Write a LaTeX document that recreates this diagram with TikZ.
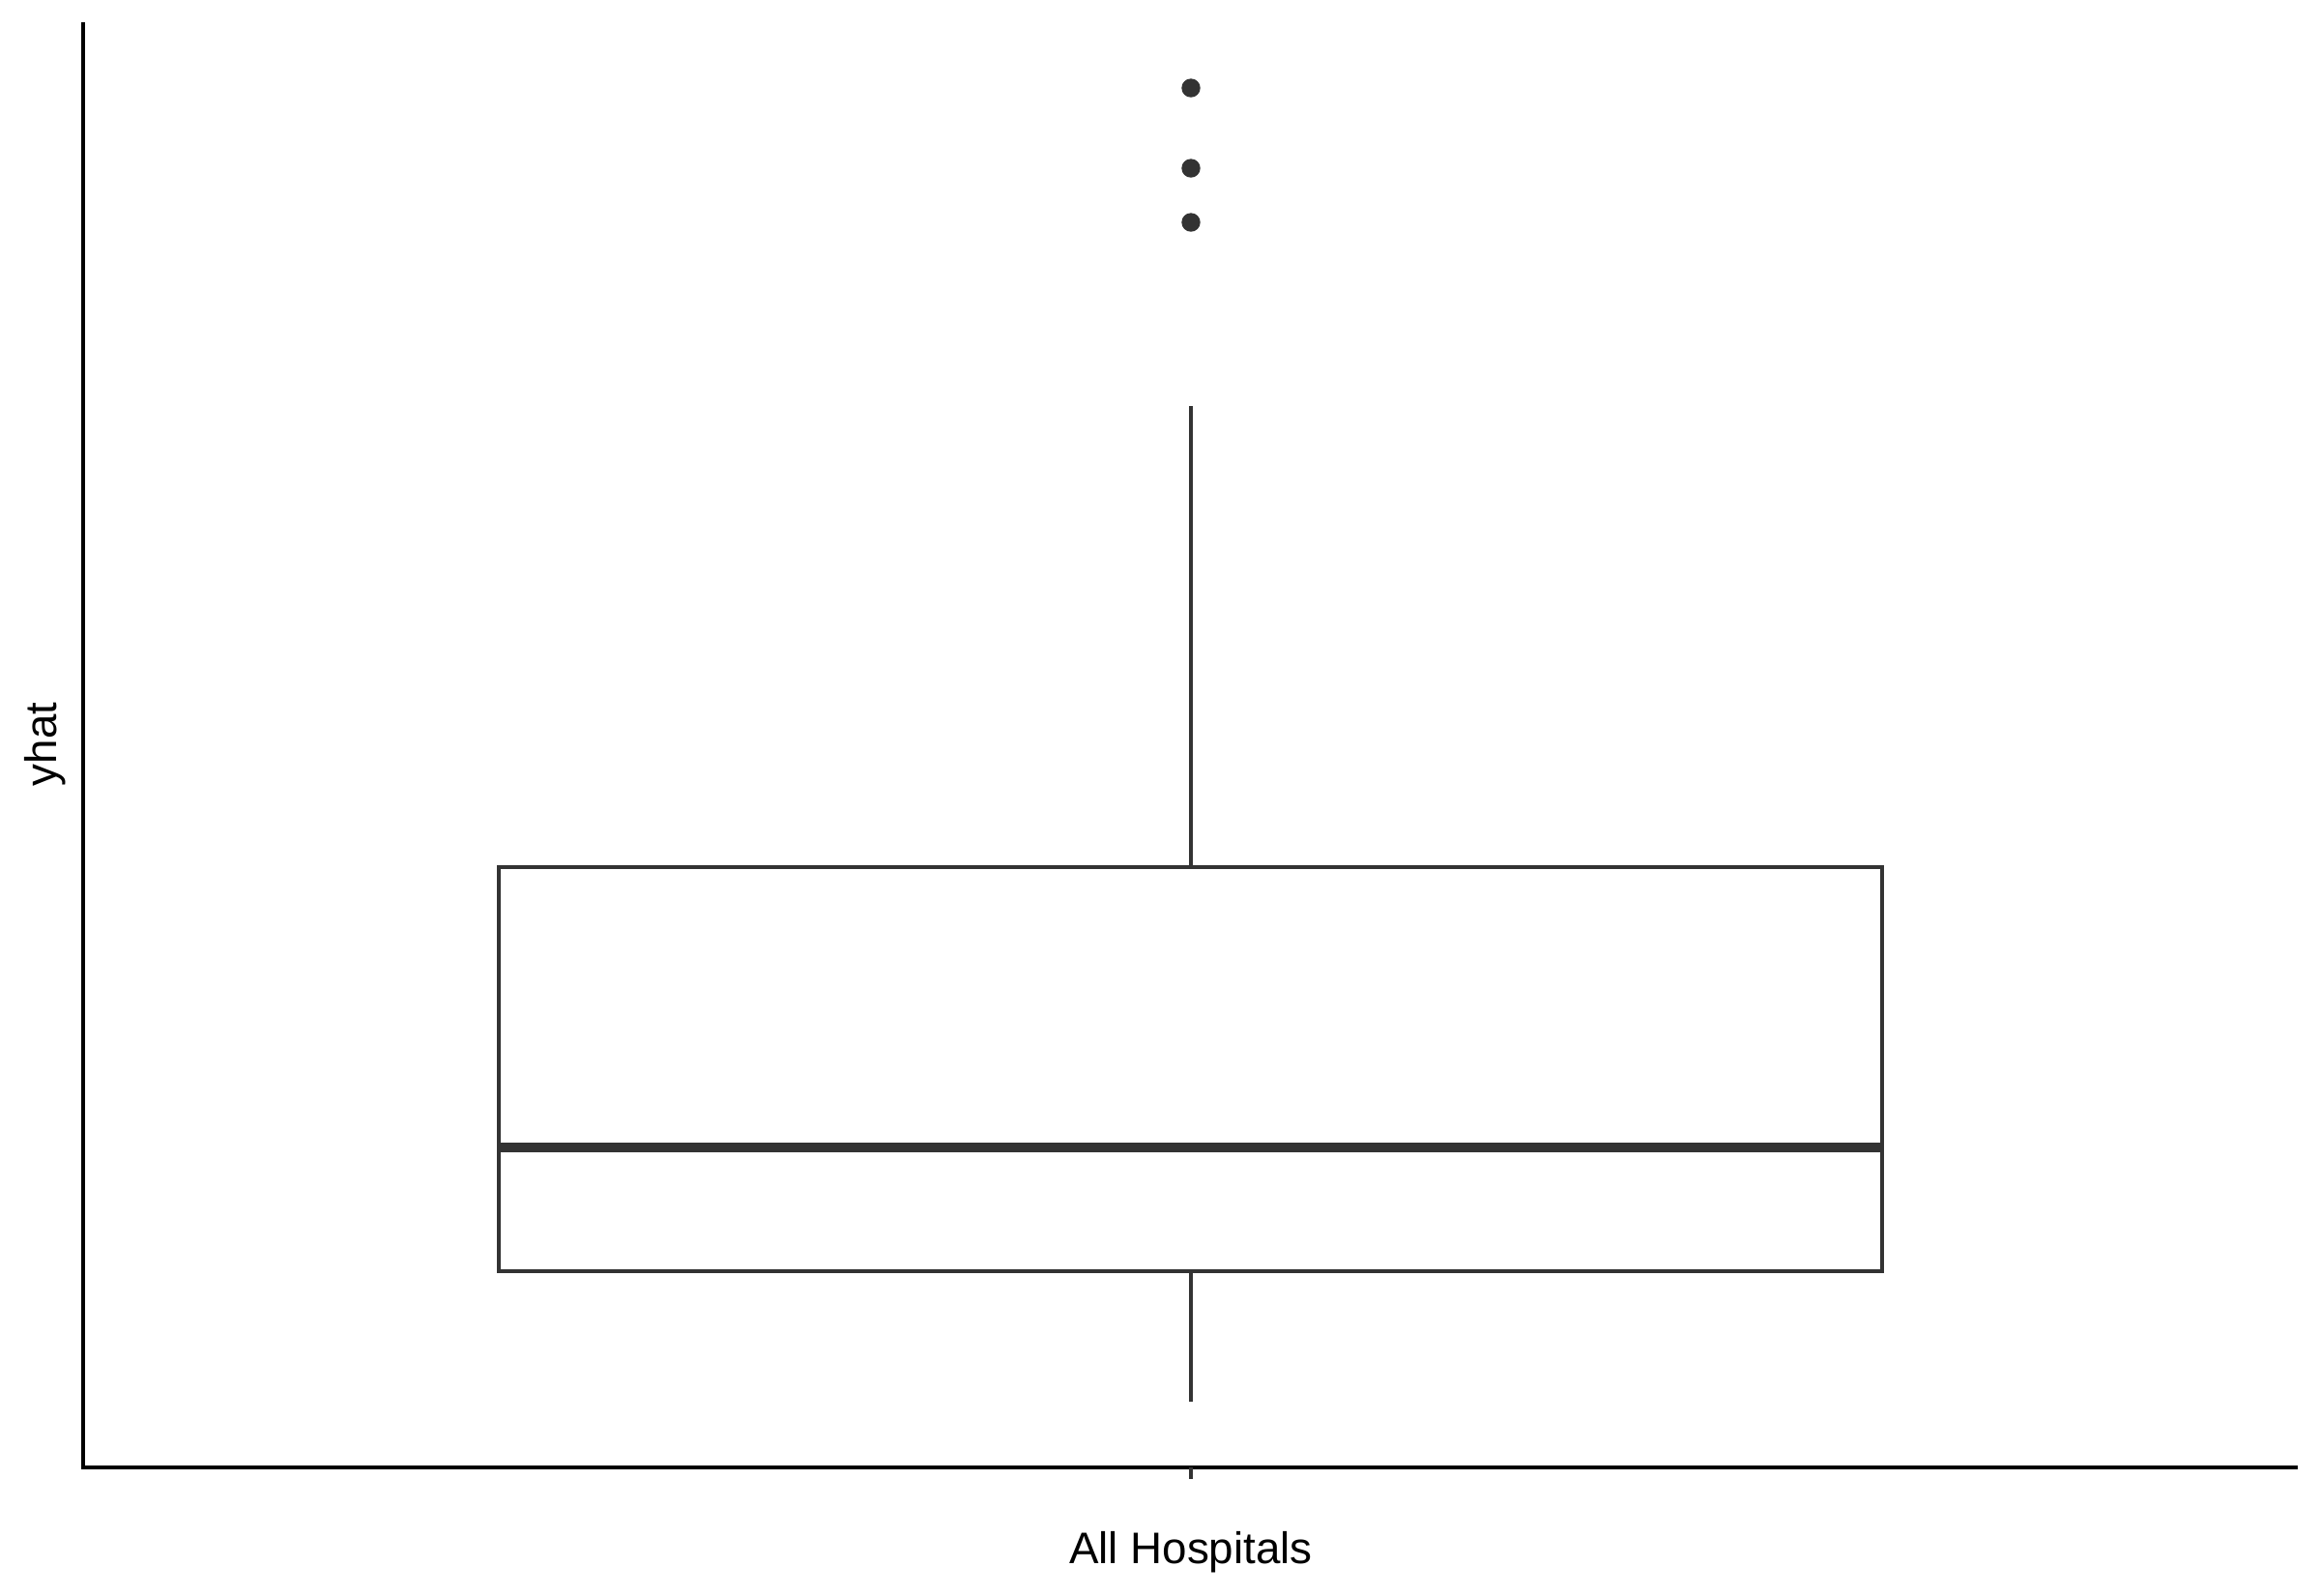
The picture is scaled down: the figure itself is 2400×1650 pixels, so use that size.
\documentclass[tikz,border=0pt]{standalone}
\usepackage{fontspec}
\setmainfont{Liberation Sans}
\usetikzlibrary{positioning}
\definecolor{boxgrey}{RGB}{51,51,51}
\tikzset{
  axisline/.style={line width=1.3pt,black},
  boxline/.style={line width=0.95pt,boxgrey},
  outlier/.style={circle,fill=boxgrey,inner sep=0pt,minimum size=0.194cm},
  axislabel/.style={font=\fontsize{13}{15}\selectfont,inner sep=0pt,anchor=base}
}
\begin{document}
\begin{tikzpicture}[x=0.01cm,y=-0.01cm]
\useasboundingbox (0,0) rectangle (2400,1650);
% Axes
\coordinate (ytop) at (86,23);
\coordinate (origin) at (86,1518);
\coordinate (xend) at (2377,1518);
\draw[axisline] (ytop) -- (origin) -- (xend);
\coordinate (tick) at (1232,1518);
\coordinate (tickend) at (1232,1530);
\draw[boxline,line width=1.2pt] (tick) -- (tickend); % x tick
% Box
\coordinate (q1left) at (516,1315);
\coordinate (q3right) at (1947,897);
\filldraw[boxline,fill=white] (q1left) rectangle (q3right);
\coordinate (medleft) at (516,1187);
\coordinate (medright) at (1947,1187);
\draw[boxgrey,line width=2.6pt] (medleft) -- (medright); % median
% Whiskers
\coordinate (boxtop) at (1232,897);
\coordinate (whitop) at (1232,420);
\coordinate (boxbot) at (1232,1315);
\coordinate (whibot) at (1232,1450);
\draw[boxline] (boxtop) -- (whitop);
\draw[boxline] (boxbot) -- (whibot);
% Outliers
\node[outlier] (out1) at (1232,91) {};
\node[outlier] (out2) at (1232,174) {};
\node[outlier] (out3) at (1232,230) {};
% Labels
\node[axislabel] (xlab) at (1232,1617) {All Hospitals};
\node[axislabel,rotate=90] (ylab) at (58,770) {yhat};
\end{tikzpicture}
\end{document}
